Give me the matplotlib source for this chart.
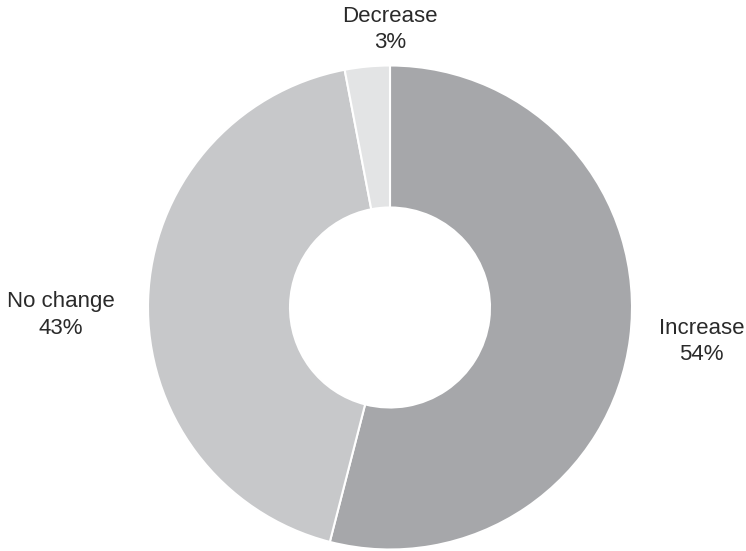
import numpy as np
import matplotlib
matplotlib.use("Agg")
import matplotlib.pyplot as plt

plt.rcParams['font.family'] = ['Liberation Sans', 'DejaVu Sans']

# share of responses, clockwise from 12 o'clock
labels = ['Increase', 'No change', 'Decrease']
values = [54, 43, 3]
colors = ['#a6a7aa', '#c7c8ca', '#e3e4e5']

W, H = 746, 551
cx, cy, R = 390, 307.5, 242.0

# label anchors, in units of the outer radius
label_pos = [(1.287, -0.140), (-1.359, -0.031), (0.0, 1.147)]

fig = plt.figure(figsize=(W / 100, H / 100), dpi=100)
ax = fig.add_axes([0, 0, 1, 1])

wedges, _ = ax.pie(values, colors=colors, startangle=90, counterclock=False,
                   radius=1.0,
                   wedgeprops=dict(width=1 - 100 / R, edgecolor='white', linewidth=1.5))

for lab, v, (x, y) in zip(labels, values, label_pos):
    ax.text(x, y, f"{lab}\n{v}%", ha='center', va='center', fontsize=16,
            color='#2a2a2a', linespacing=1.32)

ax.set_xlim(-cx / R, (W - cx) / R)
ax.set_ylim(-(H - cy) / R, cy / R)
ax.set_aspect('equal')
ax.axis('off')

fig.savefig('out.png', dpi=100)
